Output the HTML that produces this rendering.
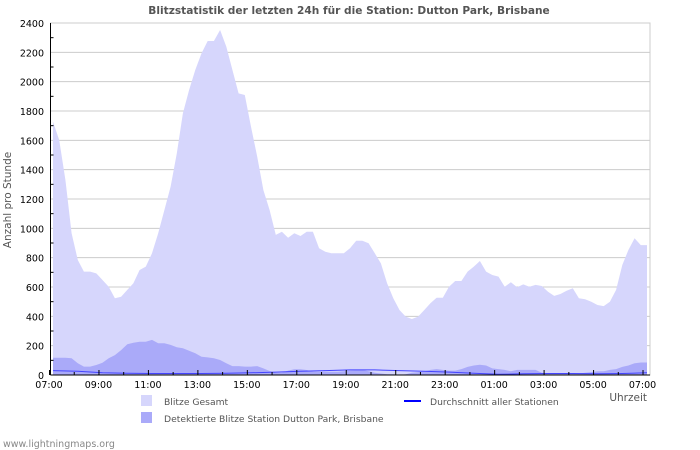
<!DOCTYPE html>
<html><head><meta charset="utf-8"><style>
body{margin:0;background:#fff;}
svg{display:block;font-family:"DejaVu Sans","Liberation Sans",sans-serif;}
</style></head><body>
<svg id="c" width="700" height="450"></svg>
<script>
const totalValues=[1727,1602,1330,966,784,705,705,693,648,602,523,534,580,625,716,739,830,966,1125,1284,1511,1784,1943,2080,2193,2277,2277,2352,2239,2080,1920,1909,1693,1489,1261,1125,955,977,936,966,948,977,977,864,841,830,830,830,864,916,916,898,830,761,625,523,443,398,382,398,443,489,527,527,602,641,641,705,739,777,705,682,671,602,632,598,618,602,614,607,568,539,552,575,591,523,516,500,477,470,500,580,750,852,932,886,886];
const stationValues=[118,118,118,114,80,57,57,68,84,114,136,170,209,220,227,227,239,216,216,205,189,182,166,148,125,120,114,102,80,61,61,57,57,61,45,27,16,16,30,39,39,34,23,22,22,22,22,25,30,34,34,25,15,10,5,5,0,5,15,20,25,35,40,35,30,30,40,55,65,70,65,45,40,35,25,35,35,35,35,15,10,10,10,10,10,10,15,20,25,25,35,40,55,65,80,85,85];
const avgValues=[30,25,15,12,10,10,10,12,15,20,25,30,35,35,30,25,20,12,5,8,10,10,8,10,15];
const yTicks=[0,200,400,600,800,1000,1200,1400,1600,1800,2000,2200,2400];
const xLabels=["07:00","09:00","11:00","13:00","15:00","17:00","19:00","21:00","23:00","01:00","03:00","05:00","07:00"];
const L=50.5,R=650,T=23,B=375;
const ys=v=>B-v*(B-T)/2400;
const xd=t=>53+t*24.75;
const xl=t=>49+t*24.73;
const svg=document.getElementById('c');const NS='http://www.w3.org/2000/svg';
function el(tag,attrs,parent){const e=document.createElementNS(NS,tag);for(const k in attrs)e.setAttribute(k,attrs[k]);(parent||svg).appendChild(e);return e;}
function area(vals,step,fill,name){let d='M'+xd(0)+','+B;vals.forEach((v,i)=>{d+=' L'+xd(i*step).toFixed(1)+','+ys(v).toFixed(1);});d+=' L'+xd((vals.length-1)*step)+','+B+' Z';const p=el('path',{d:d,fill:fill});}
const t=el('text',{x:349,y:14,'text-anchor':'middle','font-size':'10.6','font-weight':'bold',fill:'#555'});t.textContent='Blitzstatistik der letzten 24h für die Station: Dutton Park, Brisbane';

yTicks.forEach(v=>{const g=el('line',{x1:L,x2:R,y1:ys(v),y2:ys(v),stroke:'#ccc','stroke-width':1});
const lb=el('text',{x:44,y:ys(v)+4,'text-anchor':'end','font-size':'9.5',fill:'#000'});lb.textContent=v;});
area(totalValues,0.25,'#d6d6fc','total-area');
area(stationValues,0.25,'#aaaaf9','station-area');
let d='';avgValues.forEach((v,i)=>{d+=(i?' L':'M')+xd(i).toFixed(1)+','+ys(v).toFixed(1);});
const al=el('path',{d:d,fill:'none',stroke:'#4444ff','stroke-width':1});
const bx=el('rect',{x:L,y:T,width:R-L,height:B-T,fill:'none',stroke:'#ccc'});
el('line',{x1:L,x2:L,y1:T,y2:B,stroke:'#000'});el('line',{x1:L,x2:R,y1:B,y2:B,stroke:'#000'});
for(let v=100;v<2400;v+=200){el('line',{x1:L,x2:L+3,y1:ys(v),y2:ys(v),stroke:'#000'});}
for(let h=0;h<=24;h++){const len=h%2?3:5;el('line',{x1:xl(h)+0.5,x2:xl(h)+0.5,y1:B,y2:B-len,stroke:'#000'});}
xLabels.forEach((s,i)=>{const lb=el('text',{x:xl(i*2),y:388,'text-anchor':'middle','font-size':'9.5',fill:'#000'});lb.textContent=s;});
const ya=el('text',{x:0,y:0,transform:'translate(11,200) rotate(-90)','text-anchor':'middle','font-size':'10.5',fill:'#555'});ya.textContent='Anzahl pro Stunde';
const xa=el('text',{x:647,y:401,'text-anchor':'end','font-size':'10.5',fill:'#555'});xa.textContent='Uhrzeit';
const lg=el('g',{});
el('rect',{x:141,y:395,width:11,height:11,fill:'#d6d6fc'},lg);
el('rect',{x:141,y:412,width:11,height:11,fill:'#aaaaf9'},lg);
el('line',{x1:404,x2:421,y1:401,y2:401,stroke:'#0000ff','stroke-width':2},lg);
[[164,405,'Blitze Gesamt'],[164,422,'Detektierte Blitze Station Dutton Park, Brisbane'],[430,405,'Durchschnitt aller Stationen']].forEach(a=>{const e=el('text',{x:a[0],y:a[1],'font-size':'9.2',fill:'#555'},lg);e.textContent=a[2];});
const w=el('text',{x:3,y:447,'font-size':'9.5',fill:'#888'});w.textContent='www.lightningmaps.org';
</script>
</body></html>
